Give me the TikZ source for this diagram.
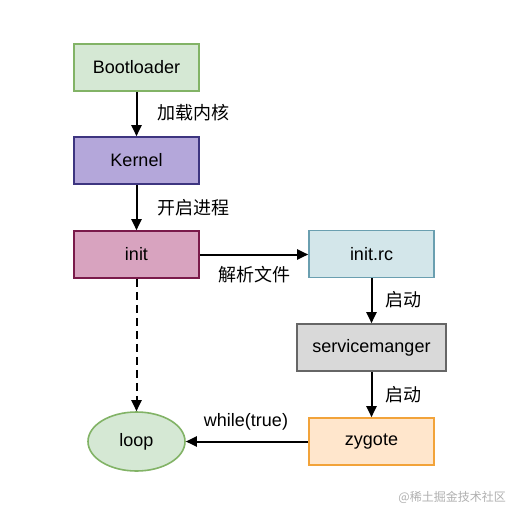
\documentclass[tikz,border=0pt]{standalone}
\usepackage{fontspec}
\setmainfont{Liberation Sans}
\newfontfamily\cjk{Noto Sans CJK SC}
\usetikzlibrary{arrows.meta,shapes.geometric}
\definecolor{bootF}{HTML}{D5E8D4}\definecolor{bootD}{HTML}{82B366}
\definecolor{kerF}{HTML}{B4A7DA}\definecolor{kerD}{HTML}{3D3580}
\definecolor{initF}{HTML}{D8A3BF}\definecolor{initD}{HTML}{7A1A4A}
\definecolor{rcF}{HTML}{D3E6EA}\definecolor{rcD}{HTML}{6A9FB0}
\definecolor{smF}{HTML}{D9D9D9}\definecolor{smD}{HTML}{666666}
\definecolor{zyF}{HTML}{FFE6CC}\definecolor{zyD}{HTML}{F2A33A}
\definecolor{wm}{HTML}{B0B0B0}
\tikzset{
  box/.style={draw, line width=1.6pt, minimum width=125pt, minimum height=47pt, inner sep=0pt, font=\fontsize{18}{20}\selectfont},
  conn/.style={line width=2pt, -{Triangle[length=11pt,width=10pt]}},
  lbl/.style={font=\fontsize{18}{20}\selectfont\cjk, inner sep=0pt},
}
\begin{document}
\begin{tikzpicture}[x=1pt,y=-1pt]
\useasboundingbox[fill=white] (0,0) rectangle (519,517);
\node[box, fill=bootF, draw=bootD] (boot) at (136.5,67.5) {Bootloader};
\node[box, fill=kerF, draw=kerD] (ker) at (136.5,160.5) {Kernel};
\node[box, fill=initF, draw=initD] (init) at (136.5,254.5) {init};
\node[box, fill=rcF, draw=rcD] (rc) at (371.5,254) {init.rc};
\node[box, fill=smF, draw=smD, minimum width=149pt] (sm) at (371.5,347.5) {servicemanger};
\node[box, fill=zyF, draw=zyD] (zy) at (371.5,441.5) {zygote};
\node[ellipse, draw=bootD, fill=bootF, line width=1.6pt, minimum width=97pt, minimum height=59pt, inner sep=0pt, font=\fontsize{18}{20}\selectfont] (loop) at (136.5,441.5) {loop};
\draw[conn] (boot) -- (ker);
\draw[conn] (ker) -- (init);
\draw[conn] (init) -- (init.east -| rc.west);
\draw[conn] (rc) -- (sm);
\draw[conn] (sm) -- (zy);
\draw[conn] (zy.west) -- (loop.east);
\draw[conn, dash pattern=on 8pt off 5pt] (init) -- (loop);
\node[lbl, anchor=west] (l1) at (157,113) {加载内核};
\node[lbl, anchor=west] (l2) at (157,208) {开启进程};
\node[lbl] (l3) at (254,275) {解析文件};
\node[lbl, anchor=west] (l4) at (385,300) {启动};
\node[lbl, anchor=west] (l5) at (385,395) {启动};
\node[font=\fontsize{18}{20}\selectfont, inner sep=0pt] (l6) at (246,422) {while(true)};
\node[font=\fontsize{12}{14}\selectfont\cjk, text=wm, inner sep=0pt, anchor=east] (wmk) at (506,497) {@稀土掘金技术社区};
\end{tikzpicture}
\end{document}
